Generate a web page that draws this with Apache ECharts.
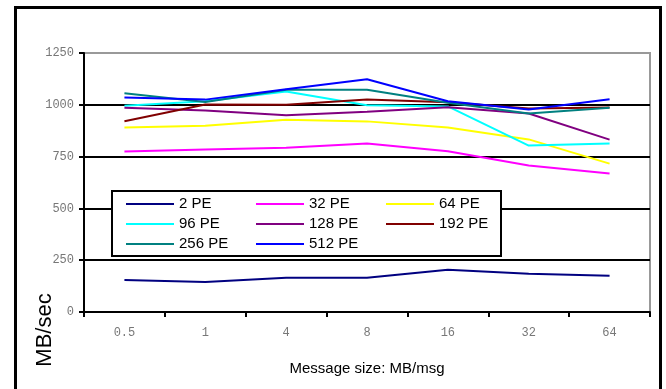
<!DOCTYPE html>
<html>
<head>
<meta charset="utf-8">
<script src="https://cdn.jsdelivr.net/npm/echarts@6/dist/echarts.min.js"></script>
<style>
  html, body { margin: 0; padding: 0; background: #fff; }
  #chart { width: 666px; height: 389px; }
</style>
</head>
<body>
<div id="chart"></div>
<script>
const sizes = ['0.5', '1', '4', '8', '16', '32', '64'];
const yTicks = { min: 0, max: 1250, interval: 250 };

const pe2 = [155, 145, 165, 165, 204, 185, 175];
const pe32 = [775, 784, 793, 813, 776, 707, 668];
const pe64 = [890, 899, 928, 920, 890, 833, 716];
const pe96 = [996, 1017, 1064, 998, 992, 803, 813];
const pe128 = [986, 972, 949, 967, 988, 958, 832];
const pe192 = [921, 1001, 1000, 1025, 1012, 982, 987];
const pe256 = [1056, 1013, 1073, 1073, 1010, 958, 986];
const pe512 = [1035, 1025, 1075, 1123, 1017, 977, 1027];

const seriesList = [
  { name: '2 PE', data: pe2, color: '#000080' },
  { name: '32 PE', data: pe32, color: '#ff00ff' },
  { name: '64 PE', data: pe64, color: '#ffff00' },
  { name: '96 PE', data: pe96, color: '#00ffff' },
  { name: '128 PE', data: pe128, color: '#800080' },
  { name: '192 PE', data: pe192, color: '#800000' },
  { name: '256 PE', data: pe256, color: '#008080' },
  { name: '512 PE', data: pe512, color: '#0000ff' },
];
const legendColumns = [
  ['2 PE', '96 PE', '256 PE'],
  ['32 PE', '128 PE', '512 PE'],
  ['64 PE', '192 PE'],
];

const chart = echarts.init(document.getElementById('chart'), null, { renderer: 'canvas' });
const monoLabel = { fontFamily: 'Liberation Mono', fontSize: 12, color: '#777' };

chart.setOption({
  animation: false,
  backgroundColor: '#fff',
  grid: { left: 84, right: 16, top: 53, bottom: 77, show: true, borderColor: '#999', borderWidth: 2, backgroundColor: '#fff' },
  xAxis: {
    type: 'category',
    data: sizes,
    boundaryGap: true,
    name: 'Message size: MB/msg',
    nameLocation: 'middle',
    nameGap: 49,
    nameTextStyle: { fontFamily: 'Liberation Sans', fontSize: 15, color: '#000' },
    axisLine: { lineStyle: { color: '#000', width: 2 } },
    axisTick: { show: true, length: 5, lineStyle: { color: '#000', width: 2 } },
    axisLabel: Object.assign({ margin: 15 }, monoLabel),
    splitLine: { show: false },
  },
  yAxis: {
    type: 'value',
    min: yTicks.min,
    max: yTicks.max,
    interval: yTicks.interval,
    axisLine: { show: true, lineStyle: { color: '#000', width: 2 } },
    axisTick: { show: true, length: 5, lineStyle: { color: '#000', width: 2 } },
    axisLabel: Object.assign({ margin: 10, formatter: (v) => String(v) }, monoLabel),
    splitLine: { show: true, lineStyle: { color: ['#000', '#000', '#000', '#000', '#000', '#999'], width: 2 } },
  },
  legend: legendColumns.map((names, i) => ({
    orient: 'vertical',
    left: 126 + i * 130,
    top: 196,
    icon: 'rect',
    itemWidth: 48,
    itemHeight: 2,
    itemGap: 4,
    padding: 0,
    selectedMode: false,
    data: names,
    textStyle: { fontFamily: 'Liberation Sans', fontSize: 15, lineHeight: 16, color: '#000' },
    z: 6,
  })),
  graphic: [
    { type: 'rect', z: 5, shape: { x: 112, y: 191, width: 389, height: 65 }, style: { fill: '#fff', stroke: '#000', lineWidth: 2 } },
    { type: 'rect', z: 5, shape: { x: 15.5, y: 7.5, width: 645, height: 400 }, style: { fill: 'none', stroke: '#000', lineWidth: 3 } },
    { type: 'text', z: 5, x: 45, y: 330, rotation: Math.PI / 2,
      style: { text: 'MB/sec', fontFamily: 'Liberation Sans', fontSize: 22, fill: '#000', align: 'center', verticalAlign: 'middle' } },
  ],
  series: seriesList.map((s) => ({
    name: s.name,
    type: 'line',
    data: s.data,
    symbol: 'none',
    lineStyle: { color: s.color, width: 2 },
    itemStyle: { color: s.color },
  })),
});
</script>
</body>
</html>
